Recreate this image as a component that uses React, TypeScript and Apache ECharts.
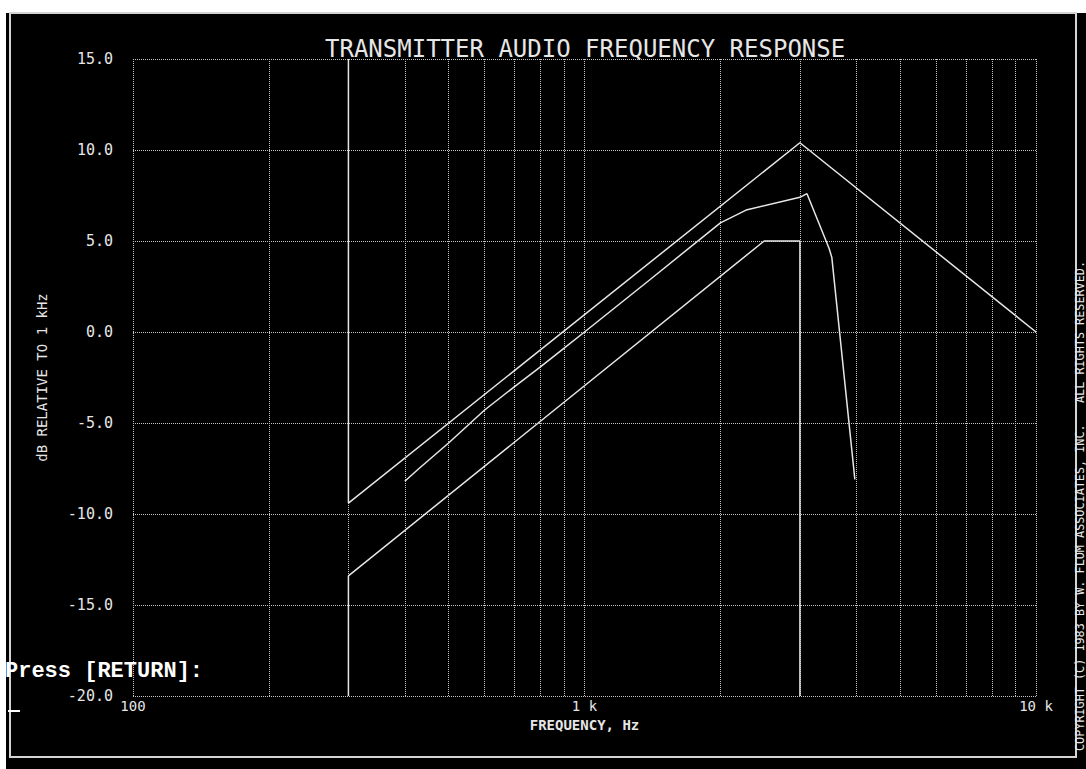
import React, { useEffect, useRef } from "react";
import * as echarts from "echarts";

// ---- data ----
const titleText = "TRANSMITTER AUDIO FREQUENCY RESPONSE";
const xAxisTitle = "FREQUENCY, Hz";
const yAxisTitle = "dB RELATIVE TO 1 kHz";
const copyrightText = "COPYRIGHT (C) 1983 BY W. FLOM ASSOCIATES, INC.   ALL RIGHTS RESERVED.";
const promptText = "Press [RETURN]:";

// upper limit of the mask (Hz, dB)
const upperFreq = [300, 300, 3000, 10000];
const upperDb = [15, -9.4, 10.4, 0];

// lower limit of the mask (Hz, dB)
const lowerFreq = [300, 300, 2500, 3000, 3000];
const lowerDb = [-20, -13.4, 5, 5, -20];

// measured response (Hz, dB)
const responseFreq = [400, 430, 500, 600, 700, 800, 900, 1000, 1400, 2000, 2280, 3000, 3110, 3480, 3530, 3970];
const responseDb = [-8.2, -7.5, -6.1, -4.3, -3.0, -1.9, -0.9, 0, 2.9, 6.0, 6.7, 7.4, 7.6, 4.6, 4.1, -8.1];

// vertical grid frequencies
const gridFreqs = [
  100, 200, 300, 400, 500, 600, 700, 800, 900,
  1000, 2000, 3000, 4000, 5000, 6000, 7000, 8000, 9000, 10000,
];

const yMin = -20;
const yMax = 15;
const yStep = 5;

const pairs = (xs: number[], ys: number[]) => xs.map((x, i) => [x, ys[i]]);

const MONO = "'DejaVu Sans Mono', monospace";
const FG = "#e6e6e6";
const GRID = "#c4c4c4";

export default function App() {
  const ref = useRef<HTMLDivElement>(null);

  useEffect(() => {
    if (!ref.current) return;
    const chart = echarts.init(ref.current, undefined, { renderer: "svg" });

    const lineBase = {
      type: "line" as const,
      showSymbol: false,
      symbol: "none",
      lineStyle: { color: FG, width: 1.5 },
      silent: true,
      z: 5,
    };

    chart.setOption({
      animation: false,
      backgroundColor: "transparent",
      title: {
        text: titleText,
        left: 320,
        top: 32,
        textStyle: { color: FG, fontFamily: MONO, fontSize: 24, fontWeight: "normal" },
      },
      grid: { left: 133, right: 50, top: 59, bottom: 73, containLabel: false },
      xAxis: {
        type: "log",
        logBase: 10,
        min: 100,
        max: 10000,
        name: xAxisTitle,
        nameLocation: "middle",
        nameGap: 15,
        nameTextStyle: { color: FG, fontFamily: MONO, fontSize: 14, fontWeight: "bold" },
        axisLine: { show: false },
        axisTick: { show: false },
        splitLine: { show: false },
        axisLabel: {
          color: FG,
          fontFamily: MONO,
          fontSize: 14,
          margin: 3,
          formatter: (v: number) => (v >= 1000 ? `${v / 1000} k` : `${v}`),
        },
      },
      yAxis: {
        type: "value",
        min: yMin,
        max: yMax,
        interval: yStep,
        name: yAxisTitle,
        nameLocation: "middle",
        nameGap: 84,
        nameTextStyle: { color: FG, fontFamily: MONO, fontSize: 14 },
        axisLine: { show: false },
        axisTick: { show: false },
        splitLine: { show: true, lineStyle: { color: GRID, width: 1, type: [1, 1] } },
        axisLabel: {
          color: FG,
          fontFamily: MONO,
          fontSize: 15,
          margin: 20,
          formatter: (v: number) => v.toFixed(1),
        },
      },
      series: [
        {
          ...lineBase,
          name: "upper",
          data: pairs(upperFreq, upperDb),
          markLine: {
            silent: true,
            symbol: ["none", "none"],
            label: { show: false },
            emphasis: { disabled: true },
            lineStyle: { color: GRID, width: 1, type: [1, 1] },
            data: gridFreqs.map((f) => ({ xAxis: f })),
            z: 1,
          },
        },
        { ...lineBase, name: "lower", data: pairs(lowerFreq, lowerDb) },
        { ...lineBase, name: "response", data: pairs(responseFreq, responseDb) },
      ],
      graphic: [
        {
          type: "rect",
          z: -100,
          silent: true,
          shape: { x: 6, y: 13, width: 1080, height: 756 },
          style: { fill: "#000" },
        },
        {
          type: "rect",
          z: -50,
          silent: true,
          shape: { x: 10, y: 13, width: 1066, height: 744 },
          style: { fill: "none", stroke: "#d4d4d4", lineWidth: 2 },
        },
        {
          type: "text",
          z: 50,
          x: 1080,
          y: 506,
          rotation: Math.PI / 2,
          silent: true,
          style: {
            text: copyrightText,
            fill: FG,
            font: `11.8px ${MONO}`,
            textAlign: "center",
            textVerticalAlign: "middle",
          },
        },
        {
          type: "text",
          z: 50,
          x: 5,
          y: 660,
          silent: true,
          style: {
            text: promptText,
            fill: "#ffffff",
            font: `bold 22px 'Liberation Mono', monospace`,
          },
        },
        {
          type: "rect",
          z: 50,
          silent: true,
          shape: { x: 8, y: 710, width: 12, height: 2 },
          style: { fill: "#ffffff" },
        },
      ],
    });

    return () => chart.dispose();
  }, []);

  return (
    <div
      style={{ position: "absolute", left: 0, top: 0, width: 1086, height: 769, background: "#fff" }}
    >
      <div ref={ref} style={{ width: 1086, height: 769 }} />
    </div>
  );
}
